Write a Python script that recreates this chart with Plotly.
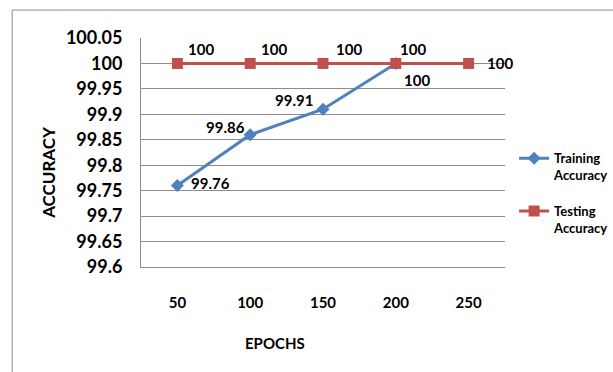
import plotly.graph_objects as go

# Accuracy per training length
epochs = [50, 100, 150, 200, 250]
train_epochs = [50, 100, 150, 200]
train_acc = [99.76, 99.86, 99.91, 100]
test_acc = [100, 100, 100, 100, 100]

x_tick_text = ["50", "100", "150", "200", "250"]
y_ticks = [99.6, 99.65, 99.7, 99.75, 99.8, 99.85, 99.9, 99.95, 100, 100.05]
y_tick_text = ["99.6", "99.65", "99.7", "99.75", "99.8", "99.85", "99.9", "99.95", "100", "100.05"]

# pixel offsets of each value label from its point
train_label_shift = [(33, 3), (-25, 8), (-29, 9), (21, -17)]
test_label_shift = [(24, 14), (24, 14), (26, 14), (17, 14), (31, 0)]

BLUE = "#4F81BD"
RED = "#C0504D"
GRID = "#8C8C8C"
FONT = "Lato"
LABEL_FONT = dict(family=FONT, size=15, color="black", weight="bold")

fig = go.Figure()

fig.add_trace(go.Scatter(
    x=train_epochs, y=train_acc,
    mode="lines+markers",
    name="Training<br>Accuracy",
    legendgroup="train",
    line=dict(color=BLUE, width=3),
    marker=dict(symbol="diamond", size=10, color=BLUE),
))

fig.add_trace(go.Scatter(
    x=epochs, y=test_acc,
    mode="lines+markers",
    name="Testing<br>Accuracy",
    legendgroup="test",
    line=dict(color=RED, width=3),
    marker=dict(symbol="square", size=11, color=RED),
))

# value labels
for xs, ys, shifts in ((train_epochs, train_acc, train_label_shift),
                       (epochs, test_acc, test_label_shift)):
    for xv, yv, (dx, dy) in zip(xs, ys, shifts):
        fig.add_annotation(x=xv, y=yv, xref="x", yref="y", text=f"{yv:g}",
                           showarrow=False, xshift=dx, yshift=dy,
                           xanchor="center", yanchor="middle",
                           font=LABEL_FONT)

# Outer chart frame
fig.add_shape(type="rect", xref="paper", yref="paper",
              x0=-0.354, x1=1.4, y0=-0.6, y1=1.122,
              line=dict(color="#8C8C8C", width=1), layer="below")

fig.add_annotation(text="ACCURACY", xref="paper", yref="paper",
                   x=-0.253, y=0.415, textangle=-90, showarrow=False,
                   xanchor="center", yanchor="middle",
                   font=dict(family=FONT, size=17, color="black", weight="bold"))
fig.add_annotation(text="EPOCHS", xref="paper", yref="paper",
                   x=0.368, y=-0.332, showarrow=False,
                   xanchor="center", yanchor="middle",
                   font=dict(family=FONT, size=15, color="black", weight="bold"))

fig.update_layout(
    width=613, height=372,
    margin=dict(l=141, r=108, t=38, b=105, autoexpand=False),
    paper_bgcolor="white", plot_bgcolor="white",
    showlegend=True,
    legend=dict(x=1.025, y=0.54, xanchor="left", yanchor="top",
                valign="top",
                font=dict(family=FONT, size=13, color="black", weight="bold"),
                tracegroupgap=16, itemwidth=30),
    xaxis=dict(range=[25, 275], tickvals=epochs, ticktext=x_tick_text,
               showgrid=False, showline=True, linecolor=GRID, zeroline=False,
               ticks="", tickfont=dict(family=FONT, size=15, color="black", weight="bold"),
               ticklabelstandoff=22),
    yaxis=dict(range=[99.6, 100.05], tickvals=y_ticks, ticktext=y_tick_text,
               showgrid=True, gridcolor=GRID, gridwidth=1,
               showline=True, linecolor=GRID, ticks="", zeroline=False,
               tickfont=dict(family=FONT, size=18, color="black", weight="bold"),
               ticklabelstandoff=14),
)

fig.write_html("out.html")
